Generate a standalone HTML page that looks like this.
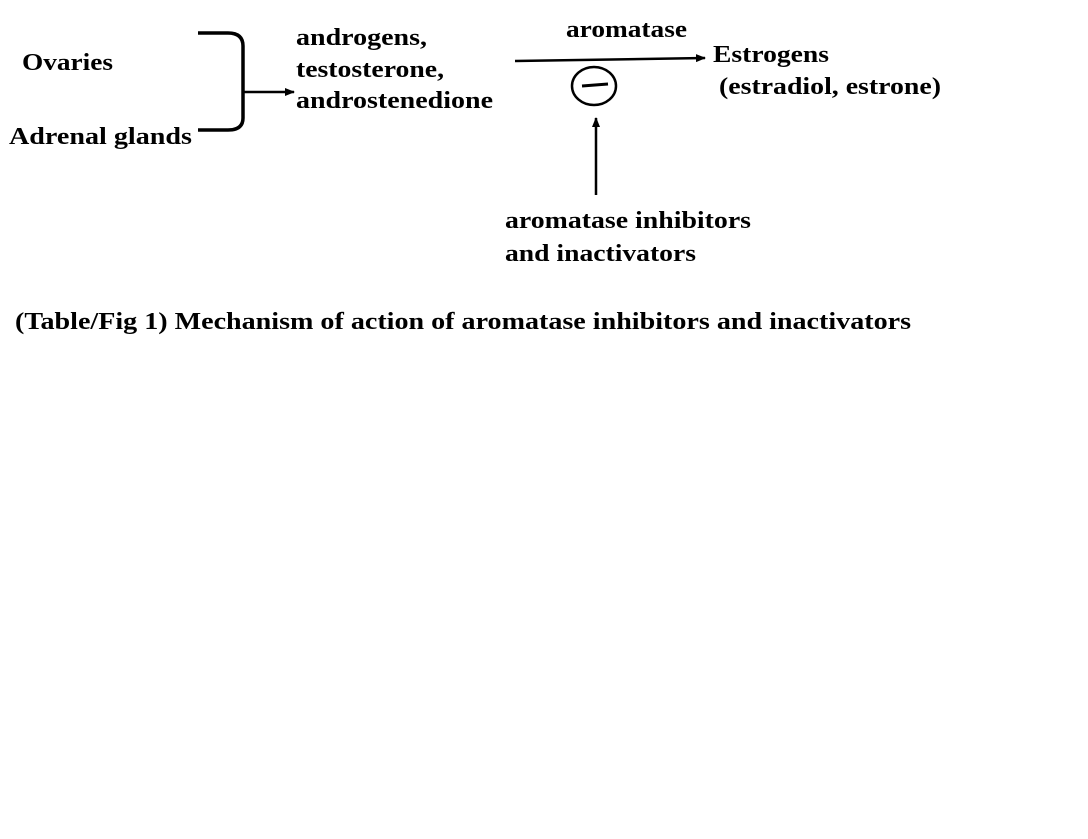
<!DOCTYPE html>
<html><head><meta charset="utf-8"><style>
html,body{margin:0;padding:0;background:#fff;}
svg{display:block;}
text{font-family:"Liberation Serif","Times New Roman",Times,serif;font-weight:bold;font-size:24px;fill:#000;}
</style></head><body>
<svg width="1088" height="839" viewBox="0 0 1088 839" xmlns="http://www.w3.org/2000/svg">
<defs><marker id="a" markerWidth="10" markerHeight="8" refX="9" refY="4" orient="auto" markerUnits="userSpaceOnUse"><path d="M0,0 L10,4 L0,8 Z" fill="#000"/></marker></defs>
<text x="22" y="70" textLength="91" lengthAdjust="spacingAndGlyphs">Ovaries</text>
<text x="9" y="144" textLength="183" lengthAdjust="spacingAndGlyphs">Adrenal glands</text>
<path d="M198,33 L228,33 Q243,33 243,46 L243,118 Q243,130 228,130 L198,130" fill="none" stroke="#000" stroke-width="3.5"/>
<line x1="243" y1="92" x2="294" y2="92" stroke="#000" stroke-width="2.5" marker-end="url(#a)"/>
<text x="296" y="45" textLength="131" lengthAdjust="spacingAndGlyphs">androgens,</text>
<text x="296" y="77" textLength="148" lengthAdjust="spacingAndGlyphs">testosterone,</text>
<text x="296" y="108" textLength="197" lengthAdjust="spacingAndGlyphs">androstenedione</text>
<text x="566" y="37" textLength="121" lengthAdjust="spacingAndGlyphs">aromatase</text>
<line x1="515" y1="61" x2="705" y2="58" stroke="#000" stroke-width="2.5" marker-end="url(#a)"/>
<text x="713" y="62" textLength="116" lengthAdjust="spacingAndGlyphs">Estrogens</text>
<text x="719" y="94" textLength="222" lengthAdjust="spacingAndGlyphs">(estradiol, estrone)</text>
<ellipse cx="594" cy="86" rx="22" ry="19" fill="none" stroke="#000" stroke-width="2.5"/>
<line x1="582" y1="86" x2="608" y2="84" stroke="#000" stroke-width="3"/>
<line x1="596" y1="195" x2="596" y2="118" stroke="#000" stroke-width="2.5" marker-end="url(#a)"/>
<text x="505" y="228" textLength="246" lengthAdjust="spacingAndGlyphs">aromatase inhibitors</text>
<text x="505" y="261" textLength="191" lengthAdjust="spacingAndGlyphs">and inactivators</text>
<text x="15" y="329" textLength="896" lengthAdjust="spacingAndGlyphs">(Table/Fig 1) Mechanism of action of aromatase inhibitors and inactivators</text>
</svg>
</body></html>
